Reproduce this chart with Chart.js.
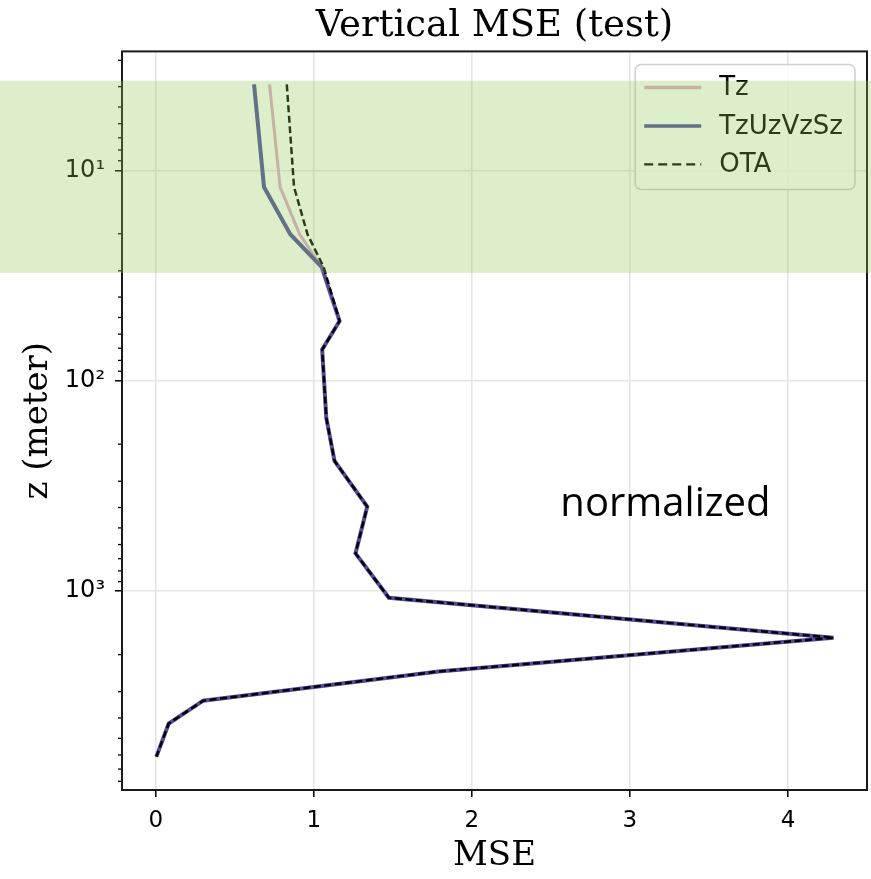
<!DOCTYPE html>
<html>
<head>
<meta charset="utf-8">
<title>Vertical MSE (test)</title>
<script src="https://cdn.jsdelivr.net/npm/chart.js@4.4.1/dist/chart.umd.min.js"></script>
<style>
  html, body { margin: 0; padding: 0; background: #fff; }
  #wrap { width: 871px; height: 879px; }
</style>
</head>
<body>
<div id="wrap"><canvas id="mseChart" width="871" height="879"></canvas></div>
<script>
// depth levels (m), shared by all series
const depths = [3.9, 12.0, 20.1, 28.8, 52, 71, 150, 240, 396, 661, 1074, 1663, 2404, 3311, 4255, 6110];

// MSE per level
const mseTz       = [0.720, 0.787, 0.910, 1.050, 1.163, 1.053, 1.079, 1.131, 1.338, 1.264, 1.475, 4.288, 1.790, 0.300, 0.082, 0.004];
const mseTzUzVzSz = [0.622, 0.685, 0.851, 1.050, 1.163, 1.053, 1.079, 1.131, 1.338, 1.264, 1.475, 4.288, 1.790, 0.300, 0.082, 0.004];
const mseOTA      = [0.829, 0.875, 0.960, 1.062, 1.163, 1.053, 1.079, 1.131, 1.338, 1.264, 1.475, 4.288, 1.790, 0.300, 0.082, 0.004];

const seriesNames = ['Tz', 'TzUzVzSz', 'OTA'];

// ticks
const xTicks = [0, 1, 2, 3, 4];
const yMajorTicks = [10, 100, 1000];
const yTickLabels = ['10¹', '10²', '10³'];
const yMinorTicks = [];
[1, 10, 100, 1000].forEach(d => {
    for (let m = 2; m <= 9; m++) yMinorTicks.push(m * d);
});

// shaded depth band and annotation
const bandDepths = [3.75, 30.7];
const noteText = 'normalized';
const notePos = { mse: 2.56, depth: 438 };

function toPoints(values) {
    return values.map((v, i) => ({ x: v, y: depths[i] }));
}

const overlayPlugin = {
    id: 'overlay',
    afterDatasetsDraw(chart) {
        const { ctx, chartArea: a } = chart;
        const ys = chart.scales.y;
        ctx.save();

        // minor ticks on the log axis
        ctx.strokeStyle = '#000';
        ctx.lineWidth = 1.3;
        yMinorTicks.forEach(v => {
            if (v < ys.min || v > ys.max) return;
            const py = ys.getPixelForValue(v);
            ctx.beginPath();
            ctx.moveTo(a.left - 4, py);
            ctx.lineTo(a.left, py);
            ctx.stroke();
        });

        // frame
        ctx.strokeStyle = '#1a1a1a';
        ctx.lineWidth = 2;
        ctx.strokeRect(a.left, a.top, a.right - a.left, a.bottom - a.top);

        // legend box
        ctx.font = '26px "DejaVu Sans"';
        const textW = Math.max(...seriesNames.map(n => ctx.measureText(n).width));
        const lineLen = 57, pad = 9, gap = 18, rowH = 38.5;
        const w = pad + lineLen + gap + textW + 12;
        const h = 125;
        const x0 = a.right - 12 - w;
        const y0 = a.top + 13;
        ctx.beginPath();
        ctx.roundRect(x0, y0, w, h, 6);
        ctx.fillStyle = 'rgba(255,255,255,0.8)';
        ctx.fill();
        ctx.strokeStyle = '#d0d0d0';
        ctx.lineWidth = 1.5;
        ctx.stroke();

        chart.data.datasets.forEach((ds, i) => {
            const cy = y0 + 23 + i * rowH;
            ctx.beginPath();
            ctx.setLineDash(ds.borderDash ? [9, 5] : []);
            ctx.strokeStyle = ds.borderColor;
            ctx.lineWidth = ds.borderDash ? 2.2 : 3.5;
            ctx.moveTo(x0 + pad, cy);
            ctx.lineTo(x0 + pad + lineLen, cy);
            ctx.stroke();
            ctx.setLineDash([]);
            ctx.fillStyle = '#000';
            ctx.textBaseline = 'middle';
            ctx.textAlign = 'left';
            ctx.fillText(ds.label, x0 + pad + lineLen + gap, cy + 1);
        });
        ctx.restore();
    },
    afterDraw(chart) {
        const { ctx } = chart;
        const xs = chart.scales.x, ys = chart.scales.y;
        ctx.save();
        // annotation text
        ctx.font = '40px "Open Sans"';
        ctx.fillStyle = '#000';
        ctx.textBaseline = 'alphabetic';
        ctx.textAlign = 'left';
        ctx.fillText(noteText, xs.getPixelForValue(notePos.mse), ys.getPixelForValue(notePos.depth));
        // translucent green band across the whole picture
        const yTop = ys.getPixelForValue(bandDepths[0]);
        const yBot = ys.getPixelForValue(bandDepths[1]);
        ctx.fillStyle = 'rgba(140,200,80,0.3)';
        ctx.fillRect(0, yTop, chart.width, yBot - yTop);
        ctx.restore();
    }
};

Chart.defaults.font.family = '"DejaVu Sans"';
Chart.defaults.color = '#000';

new Chart(document.getElementById('mseChart'), {
    type: 'line',
    data: {
        datasets: [{
            label: seriesNames[0],
            data: toPoints(mseTz),
            borderColor: '#e0aacb',
            borderWidth: 3,
            order: 3
        }, {
            label: seriesNames[1],
            data: toPoints(mseTzUzVzSz),
            borderColor: '#524c9e',
            borderWidth: 4,
            order: 2
        }, {
            label: seriesNames[2],
            data: toPoints(mseOTA),
            borderColor: '#000000',
            borderWidth: 2.5,
            borderDash: [7, 3.5],
            order: 1
        }]
    },
    options: {
        responsive: false,
        animation: false,
        elements: {
            point: { radius: 0 },
            line: { tension: 0, fill: false }
        },
        layout: {
            padding: { left: 0, right: 4, top: 0, bottom: 0 }
        },
        plugins: {
            legend: { display: false },
            tooltip: { enabled: false },
            title: {
                display: true,
                fullSize: false,
                text: 'Vertical MSE (test)',
                color: '#000',
                font: { family: '"DejaVu Serif"', size: 37, weight: 'normal' },
                padding: { top: 4, bottom: 3 }
            }
        },
        scales: {
            x: {
                type: 'linear',
                min: -0.2135,
                max: 4.5,
                afterBuildTicks: scale => {
                    scale.ticks = xTicks.map(v => ({ value: v }));
                },
                afterFit: scale => { scale.height = 89; },
                ticks: {
                    font: { size: 23 },
                    color: '#000',
                    padding: 10,
                    maxRotation: 0
                },
                grid: {
                    color: '#e6e6e6',
                    lineWidth: 1.6,
                    tickLength: 7,
                    tickWidth: 1.5,
                    tickColor: '#000'
                },
                border: { display: false },
                title: {
                    display: true,
                    text: 'MSE',
                    color: '#000',
                    font: { family: '"DejaVu Serif"', size: 34 },
                    padding: { top: 0, bottom: 2 }
                }
            },
            y: {
                type: 'logarithmic',
                reverse: true,
                min: 2.72,
                max: 8800,
                afterBuildTicks: scale => {
                    scale.ticks = yMajorTicks.map(v => ({ value: v, major: true }));
                },
                afterFit: scale => { scale.width = 122; },
                ticks: {
                    autoSkip: false,
                    font: { size: 24 },
                    color: '#000',
                    padding: 10,
                    callback: value => {
                        const i = yMajorTicks.indexOf(value);
                        return i >= 0 ? yTickLabels[i] : '';
                    }
                },
                grid: {
                    color: '#e6e6e6',
                    lineWidth: 1.6,
                    tickLength: 7,
                    tickWidth: 1.5,
                    tickColor: '#000'
                },
                border: { display: false },
                title: {
                    display: true,
                    text: 'z (meter)',
                    color: '#000',
                    font: { family: '"DejaVu Serif"', size: 34 },
                    padding: { top: 18, bottom: 0 }
                }
            }
        }
    },
    plugins: [overlayPlugin]
});
</script>
</body>
</html>
